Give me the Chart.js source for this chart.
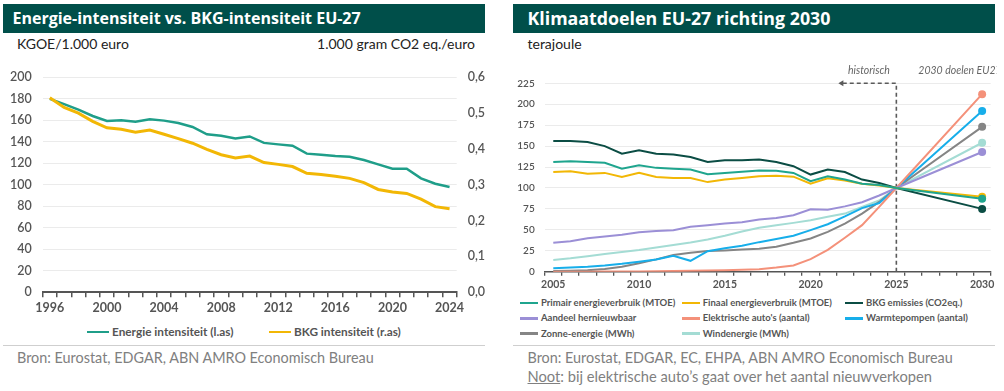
<!DOCTYPE html>
<html><head><meta charset="utf-8">
<script src="https://cdn.jsdelivr.net/npm/chart.js@4.4.0/dist/chart.umd.min.js"></script>
<style>
html,body{margin:0;padding:0}
body{width:1004px;height:391px;background:#fff;position:relative;overflow:hidden;font-family:Lato,"Open Sans",sans-serif}
.bar{position:absolute;top:4px;height:29px;width:482px;background:#004f4a;color:#fff;font-weight:700;line-height:29px;box-sizing:border-box;white-space:nowrap;font-family:"Open Sans",Lato,sans-serif}
.sub{position:absolute;font-size:14px;line-height:14px;color:#222;white-space:nowrap}
.cv{position:absolute}
.leg{position:absolute;font-size:11px;font-weight:700;color:#555;white-space:nowrap;line-height:12px}
.leg .it{position:absolute;display:flex;align-items:center}
.leg .sw{display:inline-block;height:2.5px;margin-right:3px}
.rule{position:absolute;height:1px;background:#cfcfcf}
.foot{position:absolute;font-size:14.4px;color:#808080;white-space:nowrap;line-height:15px;font-weight:400}
</style></head><body>

<div class="bar" style="left:3px;padding-left:9.5px;font-size:16px">Energie-intensiteit vs. BKG-intensiteit EU-27</div>
<div class="bar" style="left:513px;padding-left:14.5px;font-size:17.8px">Klimaatdoelen EU-27 richting 2030</div>
<div class="sub" style="left:17px;top:37px">KGOE/1.000 euro</div>
<div class="sub" style="left:300px;width:175px;text-align:right;top:37px">1.000 gram CO2 eq./euro</div>
<div class="sub" style="left:527.5px;top:37px">terajoule</div>

<div class="cv" style="left:0;top:55px;width:500px;height:265px"><canvas id="c1"></canvas></div>
<div class="cv" style="left:500px;top:55px;width:504px;height:240px"><canvas id="c2"></canvas></div>

<div class="leg" id="leg1"></div>
<div class="leg" id="leg2"></div>

<div class="rule" style="left:3px;width:482px;top:345px"></div>
<div class="rule" style="left:513px;width:482px;top:345px"></div>
<div class="foot" style="left:17px;top:350px">Bron: Eurostat, EDGAR, ABN AMRO Economisch Bureau</div>
<div class="foot" style="left:527.5px;top:350px">Bron: Eurostat, EDGAR, EC, EHPA, ABN AMRO Economisch Bureau</div>
<div class="foot" style="left:527.5px;top:368.5px;font-size:14.7px"><u>Noot</u>: bij elektrische auto’s gaat over het aantal nieuwverkopen</div>

<script>
// ---------- Data: left chart ----------
const years1 = ['1996','1997','1998','1999','2000','2001','2002','2003','2004','2005','2006','2007','2008','2009','2010','2011','2012','2013','2014','2015','2016','2017','2018','2019','2020','2021','2022','2023','2024'];
const xLabels1 = ['1996','2000','2004','2008','2012','2016','2020','2024'];
const energieIntensiteit = [180,175,170,164,159.3,160,158.7,161,159.7,157.5,153.8,147,145.7,143,145,139,137.6,136.4,129,128,126.8,126,123,119,115,115,106,101,98];
const bkgIntensiteit = [0.543,0.516,0.500,0.477,0.459,0.455,0.447,0.453,0.441,0.429,0.416,0.399,0.384,0.375,0.380,0.362,0.357,0.351,0.332,0.329,0.324,0.318,0.306,0.287,0.280,0.276,0.260,0.239,0.233];
const series1Names = ['Energie intensiteit (l.as)','BKG intensiteit (r.as)'];
const series1Colors = ['#1f9e89','#f2b705'];

// ---------- Data: right chart ----------
const years2 = ['2005','2006','2007','2008','2009','2010','2011','2012','2013','2014','2015','2016','2017','2018','2019','2020','2021','2022','2023','2024','2025','2026','2027','2028','2029','2030'];
const xLabels2 = ['2005','2010','2015','2020','2025','2030'];
const primair   = [131,132,131,130,123,127,124,123,122,116.5,118,119.4,121,120.6,118,108,114,110,105,103.6,100,null,null,null,null,87];
const finaal    = [119,120,117,118,113,118,113,112,112,107,110,112,114,114.7,113.5,105,111.5,109,105,103,100,null,null,null,null,89.5];
const bkgEmiss  = [156,156,155,150,141,145,141,140,137,131,133,133,134,131,126,116,122,119,110,106,100,null,null,null,null,75];
const hernieuw  = [34.5,36.5,40,42,44,47,48.5,49.6,53.6,55.6,57.5,59,62.3,64,67.5,74.6,74,78,83,91,100,null,null,null,null,143];
const eAutos    = [0,0,0,0.1,0.2,0.3,0.5,0.7,1,1.3,1.7,2.2,3,5,7.5,15,26,40.5,55.6,77.4,100,null,null,null,null,212];
const warmtepomp= [4,5,6,7.5,9.5,12,14.5,19,13,24.5,28,31,35.3,39,43,49.6,56.7,66,76,82,100,null,null,null,null,192];
const zonne     = [0.8,1.2,1.6,3.2,6,10,14.7,20,22.6,24.6,25.4,26.6,27.4,29.8,34.5,39.7,47.6,57.5,69.4,83.3,100,null,null,null,null,173];
const wind      = [14,16,18.5,21,23.5,26,29,32,35,38.5,43,48,52.4,55.5,58.3,61.5,65.5,69.4,77.4,85,100,null,null,null,null,154];
const series2Names = ['Primair energieverbruik (MTOE)','Finaal energieverbruik (MTOE)','BKG emissies (CO2eq.)','Aandeel hernieuwbaar','Elektrische auto\'s (aantal)','Warmtepompen (aantal)','Zonne-energie (MWh)','Windenergie (MWh)'];
const series2Colors = ['#1fa58e','#f2b705','#0b4d44','#9b8fd6','#f4917a','#17aeea','#858585','#a4dcd4'];
const series2Data = [primair,finaal,bkgEmiss,hernieuw,eAutos,warmtepomp,zonne,wind];
const annotHist = 'historisch';
const annotDoel = '2030 doelen EU27';

const FONT = 'Lato, "Open Sans", sans-serif';
const TICK = '#555';

// ---------- Left chart ----------
new Chart(document.getElementById('c1'), {
  type:'line',
  data:{labels:years1, datasets:[
    {label:series1Names[1], data:bkgIntensiteit, yAxisID:'y2', borderColor:series1Colors[1], borderWidth:3, pointRadius:0, tension:0, order:0},
    {label:series1Names[0], data:energieIntensiteit, yAxisID:'y', borderColor:series1Colors[0], borderWidth:2.5, pointRadius:0, tension:0, order:1}
  ]},
  options:{
    responsive:true, maintainAspectRatio:false, animation:false,
    layout:{padding:{top:22.3,left:0,right:0,bottom:0}},
    plugins:{legend:{display:false}, tooltip:{enabled:false}},
    scales:{
      x:{type:'category', offset:true,
        grid:{display:true, drawOnChartArea:false, drawTicks:true, tickLength:5, offset:true, color:'#555', lineWidth:1.5},
        border:{display:true, color:'#555', width:2},
        ticks:{autoSkip:false, maxRotation:0, padding:3, color:TICK, font:{family:FONT,size:12.5,weight:'700'},
          callback(v,i){ const l=years1[i]; return xLabels1.includes(l)?l:''; }},
        afterFit(s){ s.height = 27.7; }},
      y:{position:'left', min:0, max:200,
        ticks:{stepSize:20, padding:11, color:TICK, font:{family:FONT,size:12.5,weight:'600'}},
        grid:{color:'#ebebeb', drawTicks:false}, border:{display:false},
        afterFit(s){ s.width = 42.7; }},
      y2:{position:'right', min:0, max:0.6,
        ticks:{stepSize:0.1, padding:11, color:TICK, font:{family:FONT,size:12.5,weight:'600'},
          callback:v=>v.toFixed(1).replace('.',',')},
        grid:{display:false, drawTicks:false}, border:{display:false},
        afterFit(s){ s.width = 43.3; }}
    }
  }
});

// ---------- Right chart ----------
const annotPlugin = {
  id:'annot',
  beforeDatasetsDraw(chart){
    const {ctx, scales:{x,y}} = chart;
    const xp = x.getPixelForValue(years2.indexOf('2025'));
    const yt = y.getPixelForValue(225), yb = y.getPixelForValue(0);
    ctx.save();
    ctx.strokeStyle = '#5a5a5a'; ctx.lineWidth = 1.6; ctx.setLineDash([4,3]);
    ctx.beginPath(); ctx.moveTo(xp, yb); ctx.lineTo(xp, yt); ctx.lineTo(xp-54, yt); ctx.stroke();
    ctx.setLineDash([]); ctx.fillStyle = '#5a5a5a';
    ctx.beginPath(); ctx.moveTo(xp-58, yt); ctx.lineTo(xp-53, yt-3); ctx.lineTo(xp-53, yt+3); ctx.closePath(); ctx.fill();
    ctx.restore();
  },
  afterDraw(chart){
    const {ctx, scales:{x,y}} = chart;
    const xp = x.getPixelForValue(years2.indexOf('2025'));
    const yt = y.getPixelForValue(225);
    ctx.save();
    ctx.beginPath(); ctx.rect(0, 0, 497, chart.height); ctx.clip();
    ctx.font = 'italic 10.5px ' + FONT; ctx.fillStyle = '#666'; ctx.textBaseline = 'middle';
    ctx.textAlign = 'center'; ctx.fillText(annotHist, xp-27.5, yt-12.5);
    ctx.textAlign = 'left'; ctx.fillText(annotDoel, xp+22, yt-12.5);
    ctx.restore();
  }
};
const last = years2.length-1;
new Chart(document.getElementById('c2'), {
  type:'line',
  data:{labels:years2, datasets: series2Data.map((d,i)=>({
    label:series2Names[i], data:d, borderColor:series2Colors[i], backgroundColor:series2Colors[i],
    borderWidth:2, tension:0, spanGaps:true,
    pointRadius:ctx=>ctx.dataIndex===last?4:0, pointBorderWidth:0, pointHoverRadius:0
  }))},
  options:{
    responsive:true, maintainAspectRatio:false, animation:false,
    layout:{padding:{top:28.3,left:0,right:13.3,bottom:0}},
    plugins:{legend:{display:false}, tooltip:{enabled:false}},
    scales:{
      x:{type:'category', offset:true,
        grid:{display:true, drawOnChartArea:false, drawTicks:true, tickLength:4, offset:true, color:'#555', lineWidth:1.3},
        border:{display:true, color:'#555', width:1.6},
        ticks:{autoSkip:false, maxRotation:0, padding:3, color:TICK, font:{family:FONT,size:10.5,weight:'700'},
          callback(v,i){ const l=years2[i]; return xLabels2.includes(l)?l:''; }},
        afterFit(s){ s.height = 23.3; }},
      y:{position:'left', min:0, max:225,
        ticks:{stepSize:25, padding:10, color:TICK, font:{family:FONT,size:10,weight:'600'}},
        grid:{color:'#ebebeb', drawTicks:false}, border:{display:false},
        afterFit(s){ s.width = 44.7; }}
    }
  },
  plugins:[annotPlugin]
});

// ---------- HTML legends ----------
function addItem(host, name, color, left, top, swW){
  const it = document.createElement('div'); it.className='it';
  it.style.left = left+'px'; it.style.top = top+'px';
  const sw = document.createElement('span'); sw.className='sw'; sw.style.width=swW+'px'; sw.style.background=color;
  const tx = document.createElement('span'); tx.textContent = name;
  it.appendChild(sw); it.appendChild(tx); host.appendChild(it);
}
const leg1 = document.getElementById('leg1');
leg1.style.fontSize='11.8px';
addItem(leg1, series1Names[0], series1Colors[0], 87, 326, 22);
addItem(leg1, series1Names[1], series1Colors[1], 269, 326, 22);
const leg2 = document.getElementById('leg2');
leg2.style.fontSize='9.5px';
const colX = [520, 681.7, 845], rowY = [297, 312.3, 327.6];
series2Names.forEach((n,i)=>addItem(leg2, n, series2Colors[i], colX[i%3], rowY[Math.floor(i/3)], 18));
</script>
</body></html>
